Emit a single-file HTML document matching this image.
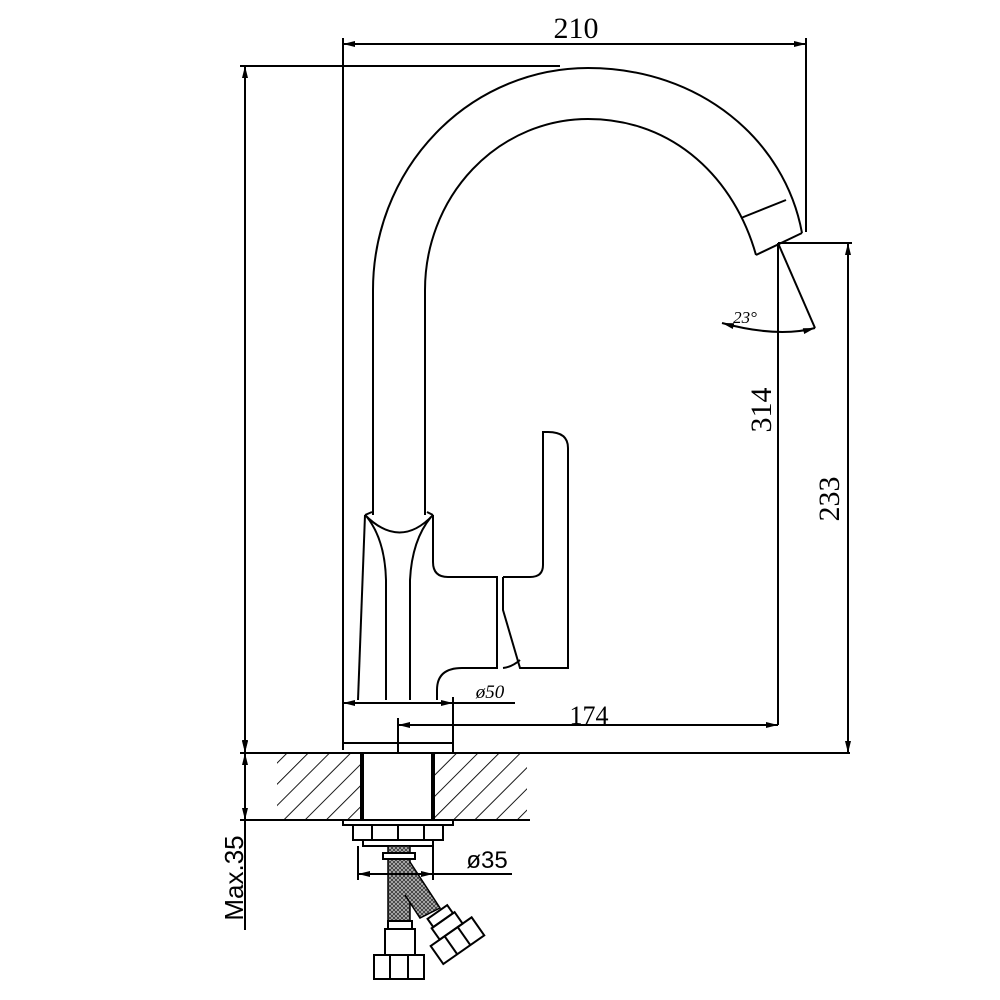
<!DOCTYPE html>
<html><head><meta charset="utf-8"><style>html,body{margin:0;padding:0;background:#fff}svg{display:block}</style></head>
<body>
<svg width="1000" height="1000" viewBox="0 0 1000 1000" xmlns="http://www.w3.org/2000/svg">
<defs>
<marker id="a" viewBox="0 0 12 6" refX="12" refY="3" markerWidth="12" markerHeight="6" markerUnits="userSpaceOnUse" orient="auto-start-reverse"><path d="M0,0 L12,3 L0,6 z" fill="#000"/></marker>
<pattern id="h" width="15" height="15" patternUnits="userSpaceOnUse" patternTransform="rotate(45)"><line x1="0" y1="0" x2="0" y2="15" stroke="#000" stroke-width="1.8"/></pattern>
<pattern id="mesh" width="4" height="4" patternUnits="userSpaceOnUse"><rect width="4" height="4" fill="#bbb"/><path d="M0,0 L4,4 M4,0 L0,4" stroke="#333" stroke-width="0.8"/></pattern>
</defs>
<g fill="none" stroke="#000" stroke-width="2">
<line x1="343" y1="44" x2="806" y2="44" marker-start="url(#a)" marker-end="url(#a)"/>
<line x1="343" y1="38" x2="343" y2="750"/>
<line x1="806" y1="38" x2="806" y2="232"/>
<line x1="240" y1="66" x2="560" y2="66"/>
<line x1="245" y1="66" x2="245" y2="752" marker-start="url(#a)" marker-end="url(#a)"/>
<path d="M373,515 L373,290 A215,222 0 0 1 588,68 C700,68 785,140 802,233"/>
<path d="M425,515 L425,290 A163,171 0 0 1 588,119 C675,119 735,180 756,255"/>
<path d="M756,255 L802,233"/>
<path d="M741,218 L786,200"/>
<path d="M365,515 L372,512 M427,512 L433,515"/>
<path d="M365,515 Q400,550 433,515"/>
<path d="M365,515 L358,700"/>
<path d="M367,517 Q385,540 386,580 L386,700"/>
<path d="M431,517 Q412,540 410,580 L410,700"/>
<path d="M433,515 L433,562 Q433,577 448,577 L497,577 L497,668 L462,668 Q437,668 437,690 L437,700"/>
<path d="M503,577 L503,610 L520,668 L568,668 L568,448 Q568,432 548,432 L543,432 L543,565 Q543,577 530,577 L503,577"/>
<path d="M503,668 Q512,667 520,660"/>
<line x1="343" y1="743" x2="453" y2="743"/>
<line x1="453" y1="697" x2="453" y2="753"/>
<line x1="240" y1="753" x2="850" y2="753"/>
<line x1="240" y1="820" x2="530" y2="820"/>
<rect x="277" y="754" width="85" height="65" fill="url(#h)" stroke="none"/>
<rect x="435" y="754" width="92" height="65" fill="url(#h)" stroke="none"/>
<line x1="362" y1="753" x2="362" y2="820" stroke-width="4"/>
<line x1="433" y1="753" x2="433" y2="820" stroke-width="4"/>
<rect x="343" y="820" width="110" height="5"/>
<path d="M353,825 L443,825 L443,840 L353,840 Z M372,825 L372,840 M398,825 L398,840 M424,825 L424,840"/>
<rect x="363" y="840" width="70" height="6"/>
<rect x="388" y="846" width="22" height="75" fill="url(#mesh)" stroke-width="1.5"/>
<rect x="383" y="853" width="32" height="6" fill="#fff"/>
<path d="M410,862 L440,908 L420,918 L405,895" fill="url(#mesh)" stroke-width="1.5"/>
<rect x="388" y="921" width="24" height="8"/>
<rect x="385" y="929" width="30" height="26"/>
<rect x="374" y="955" width="50" height="24"/>
<line x1="390" y1="955" x2="390" y2="979"/><line x1="408" y1="955" x2="408" y2="979"/>
<g transform="translate(450,930) rotate(-35)">
<rect x="-12" y="-22" width="24" height="10"/>
<rect x="-14" y="-12" width="28" height="14"/>
<rect x="-25" y="2" width="50" height="22"/>
<line x1="-8" y1="2" x2="-8" y2="24"/><line x1="8" y1="2" x2="8" y2="24"/>
</g>
<line x1="343" y1="703" x2="515" y2="703"/>
<line x1="343" y1="703" x2="365" y2="703" marker-start="url(#a)"/>
<line x1="430" y1="703" x2="453" y2="703" marker-end="url(#a)"/>
<line x1="398" y1="718" x2="398" y2="753"/>
<line x1="398" y1="725" x2="778" y2="725" marker-end="url(#a)"/>
<line x1="420" y1="725" x2="398" y2="725" marker-end="url(#a)"/>
<line x1="358" y1="846" x2="358" y2="880"/>
<line x1="433" y1="846" x2="433" y2="880"/>
<line x1="358" y1="874" x2="512" y2="874"/>
<line x1="375" y1="874" x2="358" y2="874" marker-end="url(#a)"/>
<line x1="416" y1="874" x2="433" y2="874" marker-end="url(#a)"/>
<line x1="778" y1="243" x2="778" y2="725"/>
<line x1="778" y1="243" x2="852" y2="243"/>
<line x1="848" y1="243" x2="848" y2="753" marker-start="url(#a)" marker-end="url(#a)"/>
<line x1="778" y1="243" x2="815" y2="328"/>
<path d="M722,323 Q778,338 815,328" marker-start="url(#a)" marker-end="url(#a)"/>
<line x1="245" y1="753" x2="245" y2="930"/>
<line x1="245" y1="730" x2="245" y2="753" marker-end="url(#a)"/>
<line x1="245" y1="775" x2="245" y2="753" marker-end="url(#a)"/>
<line x1="245" y1="800" x2="245" y2="820" marker-end="url(#a)"/>
<line x1="240" y1="820" x2="250" y2="820"/>
</g>
<g font-family="Liberation Serif, serif" fill="#000">
<text x="576" y="38" font-size="30" text-anchor="middle">210</text>
<text x="589" y="724" font-size="26" text-anchor="middle">174</text>
<text x="490" y="698" font-size="19" text-anchor="middle" font-style="italic">ø50</text>
<text x="745" y="323" font-size="17" text-anchor="middle" font-style="italic">23°</text>
<text transform="translate(771,410) rotate(-90)" font-size="30" text-anchor="middle">314</text>
<text transform="translate(839,499) rotate(-90)" font-size="30" text-anchor="middle">233</text>
</g>
<g font-family="Liberation Sans, sans-serif" fill="#000">
<text x="487" y="868" font-size="24" text-anchor="middle">ø35</text>
<text transform="translate(243,878) rotate(-90)" font-size="26" text-anchor="middle">Max.35</text>
</g>
</svg>
</body></html>
